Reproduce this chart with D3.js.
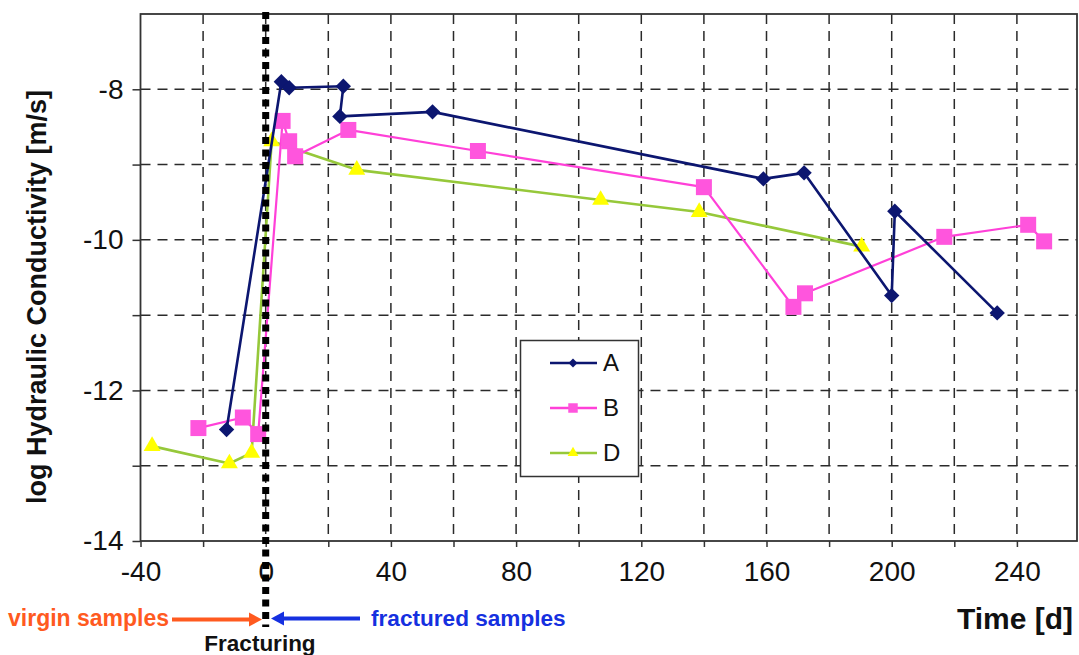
<!DOCTYPE html>
<html>
<head>
<meta charset="utf-8">
<script src="https://cdn.jsdelivr.net/npm/d3@7"></script>
<style>
  body { margin: 0; background: #fff; }
  svg { display: block; font-family: Arial, "Liberation Sans", sans-serif; }
</style>
</head>
<body>
<div id="chart"></div>
<script>
// series A
const daysA = [-12.5, 5, 7.5, 24.8, 23.7, 53.3, 159, 172, 200, 201, 233.7];
const logKA = [-12.52, -7.9, -7.98, -7.96, -8.36, -8.3, -9.19, -9.11, -10.74, -9.62, -10.97];
// series B
const daysB = [-21.5, -7.3, -2.4, 5.4, 7.5, 9.4, 26.4, 67.8, 140, 168.6, 172.3, 216.8, 243.6, 248.7];
const logKB = [-12.5, -12.36, -12.58, -8.42, -8.69, -8.89, -8.54, -8.82, -9.3, -10.89, -10.71, -9.96, -9.8, -10.02];
// series D
const daysD = [-36.3, -11.6, -4.5, 1.9, 29.1, 107, 138.5, 190.4];
const logKD = [-12.74, -12.97, -12.83, -8.69, -9.07, -9.47, -9.63, -10.09];

const seriesNames = ['A', 'B', 'D'];
const xTicks = d3.range(-40, 260, 20);
const yTicks = d3.range(-14, -7, 1);

const width = 1079, height = 655;
const plotLeft = 140.5, plotRight = 1077, plotTop = 14, plotBottom = 541;

const svg = d3.select('#chart')
    .append('svg')
    .attr('width', width)
    .attr('height', height);

svg.append('rect').attr('width', width).attr('height', height).attr('fill', '#fff');

const x = d3.scaleLinear().domain([-40, 259.2]).range([plotLeft, plotRight]);
const y = d3.scaleLinear().domain([-14, -7]).range([plotBottom, plotTop]);

// grid
const grid = svg.append('g')
    .attr('stroke', '#2a2a2a')
    .attr('stroke-width', 1.5)
    .attr('stroke-dasharray', '10,7');

grid.selectAll('line.v')
    .data(xTicks.filter(d => d > -40))
    .enter().append('line')
    .attr('class', 'v')
    .attr('x1', d => x(d)).attr('x2', d => x(d))
    .attr('y1', plotTop).attr('y2', plotBottom);

grid.selectAll('line.h')
    .data(d3.range(-13, -7, 1))
    .enter().append('line')
    .attr('class', 'h')
    .attr('x1', plotLeft).attr('x2', plotRight)
    .attr('y1', d => y(d)).attr('y2', d => y(d));

// frame
svg.append('rect')
    .attr('x', plotLeft).attr('y', plotTop)
    .attr('width', plotRight - plotLeft).attr('height', plotBottom - plotTop)
    .attr('fill', 'none').attr('stroke', '#333').attr('stroke-width', 1.8);

// axes
const xAxis = d3.axisBottom(x)
    .tickValues(xTicks)
    .tickSize(6)
    .tickPadding(14)
    .tickFormat(d => d % 40 === 0 ? String(d) : '');

const gx = svg.append('g').attr('transform', `translate(0,${plotBottom})`).call(xAxis);
gx.select('.domain').remove();
gx.selectAll('.tick line').attr('stroke', '#333').attr('stroke-width', 1.5);
gx.selectAll('.tick text')
    .attr('font-size', 28).attr('fill', '#111')
    .attr('font-family', 'Arial, "Liberation Sans", sans-serif');

const yAxis = d3.axisLeft(y)
    .tickValues(yTicks)
    .tickSize(8)
    .tickPadding(9)
    .tickFormat(d => d % 2 === 0 ? String(d) : '');

const gy = svg.append('g').attr('transform', `translate(${plotLeft},0)`).call(yAxis);
gy.select('.domain').remove();
gy.selectAll('.tick line').attr('stroke', '#333').attr('stroke-width', 1.5);
gy.selectAll('.tick text')
    .attr('font-size', 28).attr('fill', '#111')
    .attr('font-family', 'Arial, "Liberation Sans", sans-serif');

// series
const line = d3.line().x(d => x(d[0])).y(d => y(d[1]));

const series = [
    { name: 'D', data: d3.zip(daysD, logKD), stroke: '#96c83a', width: 2.6, fill: '#ffff00', symbol: d3.symbolTriangle, size: 125, rot: 0 },
    { name: 'B', data: d3.zip(daysB, logKB), stroke: '#ff40d8', width: 2.2, fill: '#ff55dd', symbol: d3.symbolSquare, size: 256, rot: 0 },
    { name: 'A', data: d3.zip(daysA, logKA), stroke: '#0c1670', width: 2.6, fill: '#0c1670', symbol: d3.symbolSquare, size: 118, rot: 45 }
];

series.forEach(s => {
    const g = svg.append('g');
    g.append('path')
        .datum(s.data)
        .attr('d', line)
        .attr('fill', 'none')
        .attr('stroke', s.stroke)
        .attr('stroke-width', s.width)
        .attr('stroke-linejoin', 'round');
    g.selectAll('path.m')
        .data(s.data)
        .enter().append('path')
        .attr('class', 'm')
        .attr('d', d3.symbol().type(s.symbol).size(s.size))
        .attr('transform', d => `translate(${x(d[0])},${y(d[1])}) rotate(${s.rot})`)
        .attr('fill', s.fill);
});

// fracturing line
svg.append('line')
    .attr('x1', x(0)).attr('x2', x(0))
    .attr('y1', 12).attr('y2', 627)
    .attr('stroke', '#000')
    .attr('stroke-width', 7)
    .attr('stroke-dasharray', '7,5.5');

// legend
const legend = svg.append('g');
legend.append('rect')
    .attr('x', 520.5).attr('y', 340.5)
    .attr('width', 118).attr('height', 136)
    .attr('fill', '#fff').attr('stroke', '#333').attr('stroke-width', 1.5);

const legendItems = [
    { name: seriesNames[0], y: 363, stroke: '#0c1670', fill: '#0c1670', symbol: d3.symbolSquare, size: 40, rot: 45 },
    { name: seriesNames[1], y: 408, stroke: '#ff40d8', fill: '#ff55dd', symbol: d3.symbolSquare, size: 90, rot: 0 },
    { name: seriesNames[2], y: 453, stroke: '#96c83a', fill: '#ffff00', symbol: d3.symbolTriangle, size: 50, rot: 0 }
];

legendItems.forEach(it => {
    legend.append('line')
        .attr('x1', 550).attr('x2', 597)
        .attr('y1', it.y).attr('y2', it.y)
        .attr('stroke', it.stroke).attr('stroke-width', 2.6);
    legend.append('path')
        .attr('d', d3.symbol().type(it.symbol).size(it.size))
        .attr('transform', `translate(573,${it.y}) rotate(${it.rot})`)
        .attr('fill', it.fill);
    legend.append('text')
        .attr('x', 603).attr('y', it.y + 8)
        .attr('font-size', 24).attr('fill', '#111')
        .text(it.name);
});

// axis titles
svg.append('text')
    .attr('transform', 'translate(46,297) rotate(-90)')
    .attr('text-anchor', 'middle')
    .attr('font-size', 27).attr('font-weight', 'bold').attr('fill', '#111')
    .text('log Hydraulic Conductivity [m/s]');

svg.append('text')
    .attr('x', 1073).attr('y', 629)
    .attr('text-anchor', 'end')
    .attr('font-size', 30).attr('font-weight', 'bold').attr('fill', '#111')
    .text('Time [d]');

// annotations
svg.append('text')
    .attr('x', 8).attr('y', 626)
    .attr('font-size', 23).attr('font-weight', 'bold').attr('fill', '#ff5a1f')
    .text('virgin samples');

svg.append('text')
    .attr('x', 371).attr('y', 626)
    .attr('font-size', 22.6).attr('font-weight', 'bold').attr('fill', '#1530e0')
    .text('fractured samples');

svg.append('text')
    .attr('x', 260).attr('y', 651)
    .attr('text-anchor', 'middle')
    .attr('font-size', 22.5).attr('font-weight', 'bold').attr('fill', '#111')
    .text('Fracturing');

// arrows
const arrows = [
    { x1: 172, x2: 252, tip: 262, color: '#ff5a1f', y: 619.5 },
    { x1: 360, x2: 282, tip: 271, color: '#1530e0', y: 618.5 }
];
arrows.forEach(a => {
    svg.append('line')
        .attr('x1', a.x1).attr('x2', a.x2)
        .attr('y1', a.y).attr('y2', a.y)
        .attr('stroke', a.color).attr('stroke-width', 4);
    const dir = Math.sign(a.tip - a.x2);
    svg.append('path')
        .attr('d', `M${a.tip},${a.y} L${a.tip - dir * 13},${a.y - 7} L${a.tip - dir * 13},${a.y + 7} Z`)
        .attr('fill', a.color);
});
</script>
</body>
</html>
